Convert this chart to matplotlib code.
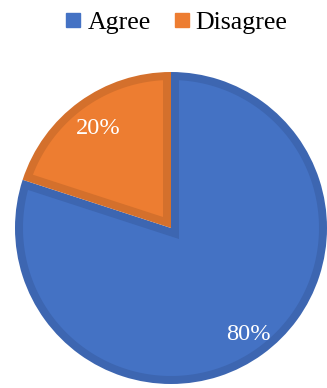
import matplotlib
matplotlib.use("Agg")
import matplotlib.pyplot as plt
from matplotlib.lines import Line2D
from matplotlib.patches import Polygon
import numpy as np

# Survey response shares
categories = ["Agree", "Disagree"]
shares = [80, 20]
fill_colors = ["#4472C4", "#ED7D31"]
edge_colors = ["#3D66B1", "#D4702C"]

plt.rcParams["font.family"] = ["Liberation Serif", "DejaVu Serif"]

W, H, DPI = 327, 388, 100
fig = plt.figure(figsize=(W / DPI, H / DPI), dpi=DPI)

# pie centre and radius in pixels
cx, cy, r = 171, 228, 156
ax = fig.add_axes([(cx - r) / W, (H - cy - r) / H, 2 * r / W, 2 * r / H])

wedges, texts, autotexts = ax.pie(
    shares,
    colors=edge_colors,
    startangle=90,
    counterclock=False,
    radius=1.0,
    autopct="%d%%",
    pctdistance=0.8,
    wedgeprops=dict(linewidth=0),
    textprops=dict(color="white", fontsize=17.6, zorder=5),
)


def inner_outline(theta1, theta2, radius, inset, n=200):
    """Outline of a wedge shrunk inward by `inset` from every side."""
    t1, t2 = np.deg2rad(theta1), np.deg2rad(theta2)
    half = (t2 - t1) / 2
    bis = t1 + half
    apex = (inset / abs(np.sin(half))) * np.array([np.cos(bis), np.sin(bis)])
    rr = radius - inset
    ends = []
    for t in (t1, t2):
        e = np.array([np.cos(t), np.sin(t)])
        b = apex @ e
        c = apex @ apex - rr ** 2
        s = -b + np.sqrt(b * b - c)
        p = apex + s * e
        ends.append(np.arctan2(p[1], p[0]))
    a1, a2 = ends
    while a1 < t1 - 1e-9:
        a1 += 2 * np.pi
    while a2 < a1:
        a2 += 2 * np.pi
    arc = np.linspace(a1, a2, n)
    pts = np.column_stack([rr * np.cos(arc), rr * np.sin(arc)])
    return np.vstack([apex, pts])


inset = 8 / r
for w, fc in zip(wedges, fill_colors):
    outline = inner_outline(w.theta1, w.theta2, w.r, inset)
    ax.add_patch(Polygon(outline, closed=True, facecolor=fc,
                         edgecolor="none", zorder=w.get_zorder() + 0.5))

# place percentage labels along each wedge's bisector
label_dist = [0.84, 0.79]
for w, t, d in zip(wedges, autotexts, label_dist):
    ang = np.deg2rad((w.theta1 + w.theta2) / 2)
    t.set_position((d * np.cos(ang), d * np.sin(ang)))

ax.set_xlim(-1, 1)
ax.set_ylim(-1, 1)
ax.set_aspect("equal")
ax.axis("off")

handles = [
    Line2D([], [], marker="s", linestyle="none", markersize=10,
           markerfacecolor=c, markeredgecolor=c)
    for c in fill_colors
]
fig.legend(
    handles, categories,
    loc="center", bbox_to_anchor=(176.5 / W, 1 - 22 / H),
    ncol=2, frameon=False, fontsize=18.6,
    handlelength=0.6, handletextpad=0.25, columnspacing=0.9,
    borderpad=0, borderaxespad=0,
)

fig.savefig("out.png", dpi=DPI)
